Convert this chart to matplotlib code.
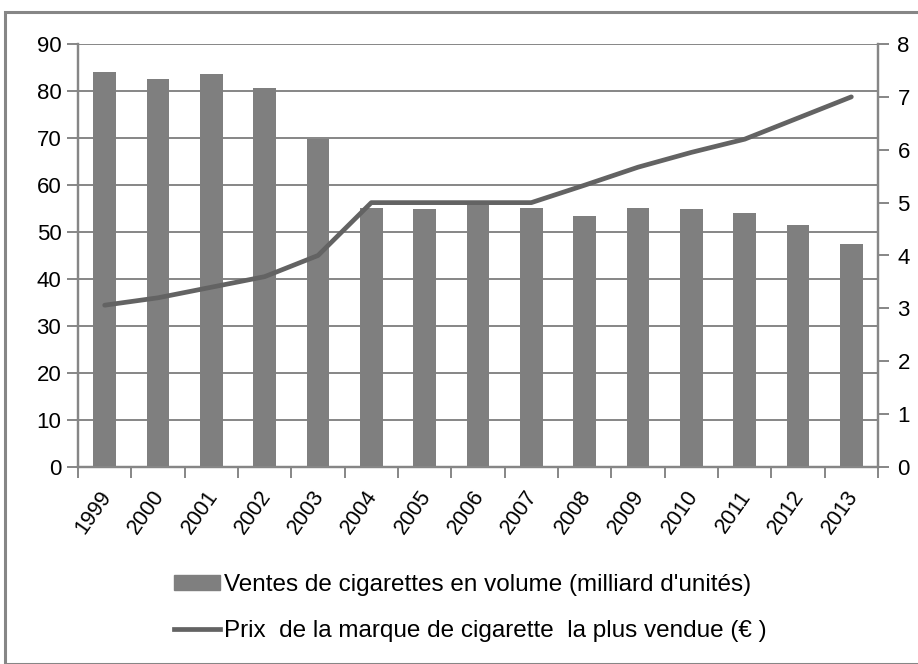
import matplotlib
matplotlib.use("Agg")
import matplotlib.pyplot as plt
from matplotlib.patches import Rectangle
from matplotlib.lines import Line2D

plt.rcParams['font.family'] = ['Liberation Sans', 'DejaVu Sans']

years = ['1999', '2000', '2001', '2002', '2003', '2004', '2005', '2006',
         '2007', '2008', '2009', '2010', '2011', '2012', '2013']
volumes = [84.0, 82.5, 83.6, 80.6, 69.8, 55.1, 54.9, 56.2, 55.1, 53.4,
           55.1, 54.9, 54.0, 51.5, 47.4]
prices = [3.06, 3.2, 3.4, 3.6, 4.0, 5.0, 5.0, 5.0, 5.0, 5.33, 5.67, 5.95,
          6.2, 6.6, 7.0]
label_bars = "Ventes de cigarettes en volume (milliard d'unités)"
label_line = "Prix  de la marque de cigarette  la plus vendue (€ )"

W, H = 918, 664
fig = plt.figure(figsize=(W / 100, H / 100), dpi=100)
fig.patches.append(Rectangle((5 / W, 0), 1.2, 1 - 12 / H, transform=fig.transFigure,
                             fill=False, edgecolor='#868686', lw=2.2))

ax = fig.add_axes([78 / W, 1 - 467 / H, 800 / W, 423 / H])
ax2 = ax.twinx()
gc = '#868686'
x = list(range(len(years)))
ax.bar(x, volumes, width=0.42, color='#7f7f7f', zorder=3)
ax.set_ylim(0, 90)
ax.set_yticks(range(0, 91, 10))
ax.set_xlim(-0.5, len(years) - 0.5)
ax.yaxis.grid(True, color=gc, lw=1.4, zorder=0)
ax.set_axisbelow(True)
ax.set_xticks([i + 0.5 for i in range(-1, len(years))], minor=False)
ax.set_xticklabels([])
ax.set_xticks([i - 0.12 for i in x], minor=True)
ax.set_xticklabels(years, minor=True, rotation=55, ha='right',
                   rotation_mode='anchor', fontsize=15.5)
ax.tick_params(axis='x', which='major', length=8, width=1.4, color=gc, direction='out')
ax.tick_params(axis='x', which='minor', length=0, pad=14)
ax.tick_params(axis='y', length=8, width=1.4, color=gc, labelsize=16, pad=4)

ax2.plot(x, prices, color='#636363', lw=3.4, solid_capstyle='round', zorder=4)
ax2.set_ylim(0, 8)
ax2.set_yticks(range(0, 9))
ax2.tick_params(axis='y', length=8, width=1.4, color=gc, labelsize=16, pad=6)

for a in (ax, ax2):
    a.spines['top'].set_visible(False)
    for side in ('left', 'right', 'bottom'):
        a.spines[side].set_color(gc)
        a.spines[side].set_linewidth(1.6)

handles = [Rectangle((0, 0), 1, 1, color='#7f7f7f'),
           Line2D([0], [0], color='#636363', lw=3.4)]
fig.legend(handles, [label_bars, label_line], loc='center',
           bbox_to_anchor=(470 / W, 1 - 608 / H), frameon=False, fontsize=17.5,
           handlelength=1.9, handleheight=0.55, handletextpad=0.15, labelspacing=1.0)

fig.savefig('out.png', dpi=100)
